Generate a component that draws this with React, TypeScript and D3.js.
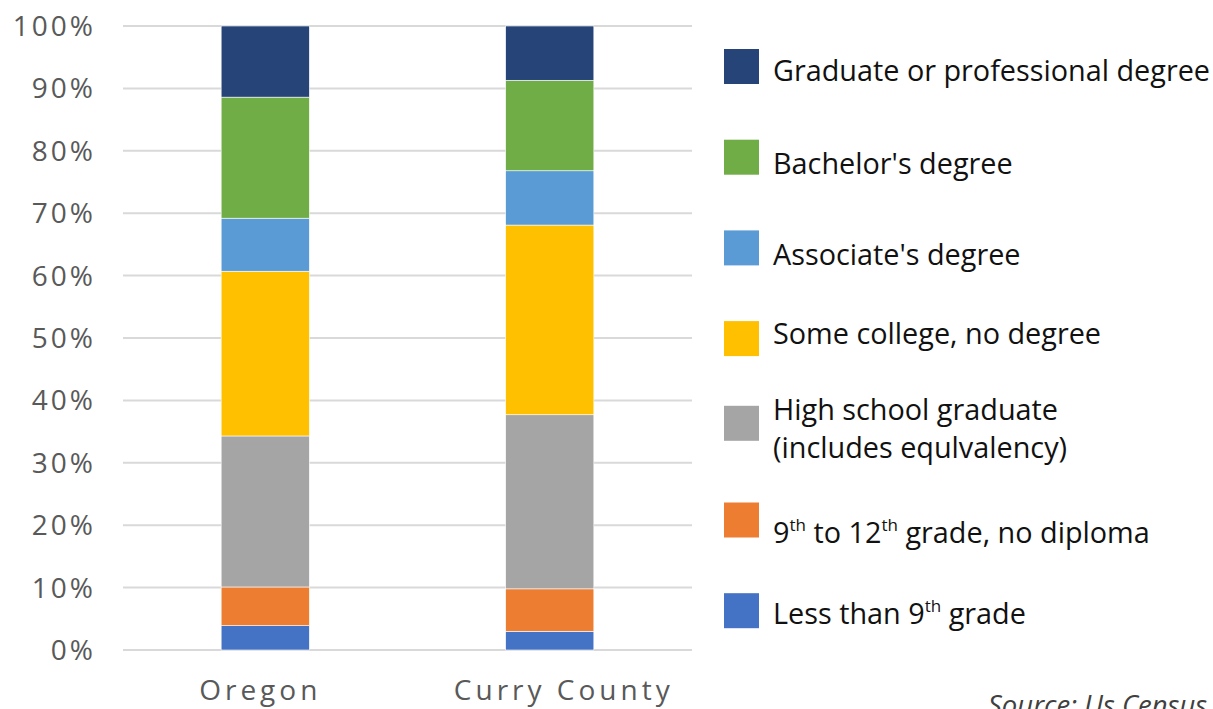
import React from 'react';
import * as d3 from 'd3';

// education attainment shares, percent
const categories = ['Oregon', 'Curry County'];
const lessThan9th = [3.9, 3.0];
const grade9to12 = [6.2, 6.8];
const highSchool = [24.2, 27.9];
const someCollege = [26.4, 30.4];
const associate = [8.5, 8.7];
const bachelor = [19.4, 14.5];
const graduate = [11.4, 8.7];
const yTicks = [0, 10, 20, 30, 40, 50, 60, 70, 80, 90, 100];

const seriesKeys = ['less', 'g912', 'hs', 'some', 'assoc', 'bach', 'grad'];
const seriesValues = [lessThan9th, grade9to12, highSchool, someCollege, associate, bachelor, graduate];
const colors = ['#4472C4', '#ED7D31', '#A5A5A5', '#FFC000', '#5B9BD5', '#70AD47', '#264478'];

const W = 1213;
const H = 709;
const m = { left: 123, right: 521, top: 26, bottom: 59 };
const FONT = '"Open Sans", "Noto Sans", sans-serif';
const labelShift = [-7, 12];

const App = () => {
  const rows = categories.map((c, i) => {
    const r: any = { cat: c };
    seriesKeys.forEach((k, j) => (r[k] = seriesValues[j][i]));
    return r;
  });
  const stacked = d3.stack().keys(seriesKeys)(rows);

  const x = d3.scaleBand().domain(categories).range([m.left, W - m.right]).paddingInner(0.69).paddingOuter(0.345);
  const y = d3.scaleLinear().domain([0, 100]).range([H - m.bottom, m.top]);

  const legendX = 724;
  const legendTop = 49;
  const legendStep = 90.7;
  const sw = 35;
  const lfs = 28.8;

  // legend, top to bottom
  const sup = (t: string) => (
    <tspan fontSize={17} dy={-12}>{t}</tspan>
  );
  const legendItems = [
    { c: colors[6], shift: 0, lines: [{ dy: 32, content: 'Graduate or professional degree' }] },
    { c: colors[5], shift: 0, lines: [{ dy: 34, content: "Bachelor's degree" }] },
    { c: colors[4], shift: 0, lines: [{ dy: 35, content: "Associate's degree" }] },
    { c: colors[3], shift: 0, lines: [{ dy: 23, content: 'Some college, no degree' }] },
    {
      c: colors[2],
      shift: -6,
      lines: [
        { dy: 14, content: 'High school graduate' },
        { dy: 52, content: '(includes equlvalency)' },
      ],
    },
    {
      c: colors[1],
      shift: 0,
      lines: [
        {
          dy: 40,
          content: (
            <>
              9{sup('th')}
              <tspan dy={12}> to 12</tspan>
              {sup('th')}
              <tspan dy={12}> grade, no diploma</tspan>
            </>
          ),
        },
      ],
    },
    {
      c: colors[0],
      shift: 0,
      lines: [
        {
          dy: 31,
          content: (
            <>
              Less than 9{sup('th')}
              <tspan dy={12}> grade</tspan>
            </>
          ),
        },
      ],
    },
  ];

  return (
    <svg width={W} height={H} style={{ position: 'absolute', left: 0, top: 0, background: '#fff' }}>
      {/* gridlines */}
      {yTicks.map((t) => (
        <line key={t} x1={m.left} x2={W - m.right} y1={y(t)} y2={y(t)} stroke="#D9D9D9" strokeWidth={2} />
      ))}
      {/* y tick labels */}
      {yTicks.map((t) => (
        <text
          key={'l' + t}
          x={96}
          y={y(t)}
          dy="0.36em"
          textAnchor="end"
          fontFamily={FONT}
          fontSize={28}
          letterSpacing={3}
          fill="#595959"
        >
          {t}%
        </text>
      ))}
      {/* bars */}
      {stacked.map((s, i) => (
        <g key={s.key} fill={colors[i]}>
          {s.map((d) => (
            <rect
              key={d.data.cat}
              x={x(d.data.cat)}
              width={x.bandwidth()}
              y={y(d[1])}
              height={y(d[0]) - y(d[1])}
              stroke="#fff"
              strokeWidth={0.6}
            />
          ))}
        </g>
      ))}
      {/* category labels */}
      {categories.map((c, i) => (
        <text
          key={c}
          x={(x(c) || 0) + x.bandwidth() / 2 + 2 + labelShift[i]}
          y={700}
          textAnchor="middle"
          fontFamily={FONT}
          fontSize={28}
          letterSpacing={4}
          fill="#595959"
        >
          {c}
        </text>
      ))}
      {/* legend */}
      {legendItems.map((it, i) => {
        const top = legendTop + i * legendStep + it.shift;
        return (
          <g key={i}>
            <rect x={legendX} y={top} width={sw} height={sw} fill={it.c} />
            {it.lines.map((ln, j) => (
              <text key={j} x={773} y={top + ln.dy} fontFamily={FONT} fontSize={lfs} fill="#111">
                {ln.content}
              </text>
            ))}
          </g>
        );
      })}
      <text x={988} y={715} fontFamily={FONT} fontSize={27.5} fontStyle="italic" fill="#404040">
        Source: Us Census
      </text>
    </svg>
  );
};

export default App;
